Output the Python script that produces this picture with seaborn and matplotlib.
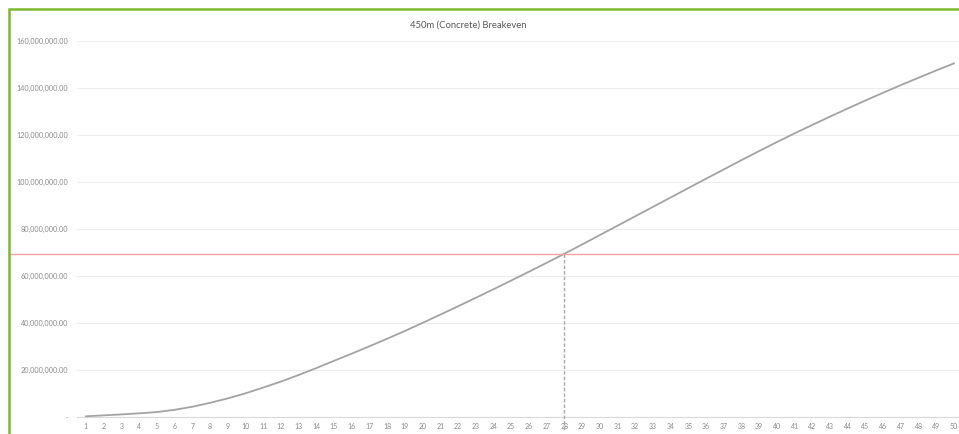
import matplotlib
matplotlib.use('Agg')
import matplotlib.pyplot as plt
import matplotlib.patches as mpatches
import seaborn as sns
import pandas as pd

# Data (cumulative value, millions, by year)
years = list(range(1, 51))
cumulative = [
    0.3, 0.7, 1.1, 1.55, 2.1, 3.05, 4.35, 6.0, 7.9, 10.05,
    12.5, 15.05, 17.85, 20.8, 23.9, 26.95, 30.1, 33.3, 36.6, 40.05,
    43.55, 47.1, 50.7, 54.35, 58.05, 61.8, 65.6, 69.45, 73.4, 77.4,
    81.4, 85.4, 89.4, 93.4, 97.4, 101.4, 105.35, 109.3, 113.2, 117.0,
    120.7, 124.3, 127.85, 131.3, 134.7, 138.0, 141.25, 144.4, 147.5, 150.5,
]
cumulative = [v * 1e6 for v in cumulative]
breakeven_value = 69.4e6
breakeven_year = 28
y_ticks = [0, 20e6, 40e6, 60e6, 80e6, 100e6, 120e6, 140e6, 160e6]
title = '450m (Concrete) Breakeven'

df = pd.DataFrame({'year': years, 'value': cumulative})

sns.set_style('white')
plt.rcParams['font.family'] = ['Lato', 'DejaVu Sans']

W, H = 959, 434
fig = plt.figure(figsize=(W / 100, H / 100), dpi=100)
ax = fig.add_axes([77 / W, (H - 417) / H, 886 / W, 376 / H])

sns.lineplot(data=df, x='year', y='value', ax=ax, color='#a3a3a3', linewidth=1.3)

# breakeven line across the whole chart
ax.axhline(breakeven_value, xmin=-67 / 886, xmax=1, color='#f2a0a0', linewidth=1.0,
           clip_on=False, zorder=3)
# dashed drop line at breakeven year
ax.plot([breakeven_year, breakeven_year], [breakeven_value, -5.5e6], color='#a8a8a8',
        linewidth=1.0, linestyle=(0, (2.5, 1.5)), clip_on=False, zorder=3)

ax.set_xlim(0.5, 50.5)
ax.set_ylim(0, 160e6)
ax.set_yticks(y_ticks)
ax.set_yticklabels(['-' if v == 0 else f'{v:,.2f}' for v in y_ticks])
ax.set_xticks(years)
ax.set_xticklabels([str(y) for y in years])
ax.tick_params(axis='both', length=0, labelsize=5, labelcolor='#8a8a8a')
ax.tick_params(axis='y', labelsize=5.2, pad=6.5)
ax.tick_params(axis='x', pad=4)
ax.set_xlabel('')
ax.set_ylabel('')

ax.yaxis.grid(True, color='#ededed', linewidth=0.8)
ax.set_axisbelow(True)
for s in ['top', 'right', 'left']:
    ax.spines[s].set_visible(False)
ax.spines['bottom'].set_color('#d9d9d9')
ax.spines['bottom'].set_linewidth(0.8)

fig.text(468 / W, 1 - 25 / H, title, ha='center', va='center', fontsize=6.8, color='#595959')

# green frame around the chart (cropped on the right and bottom)
frame = mpatches.Rectangle((9 / W, -0.1), 1.1, 1 - 9 / H + 0.1, transform=fig.transFigure,
                           fill=False, edgecolor='#7cb82f', linewidth=1.8, clip_on=False)
fig.patches.append(frame)

fig.savefig('out.png', dpi=100, facecolor='white')
